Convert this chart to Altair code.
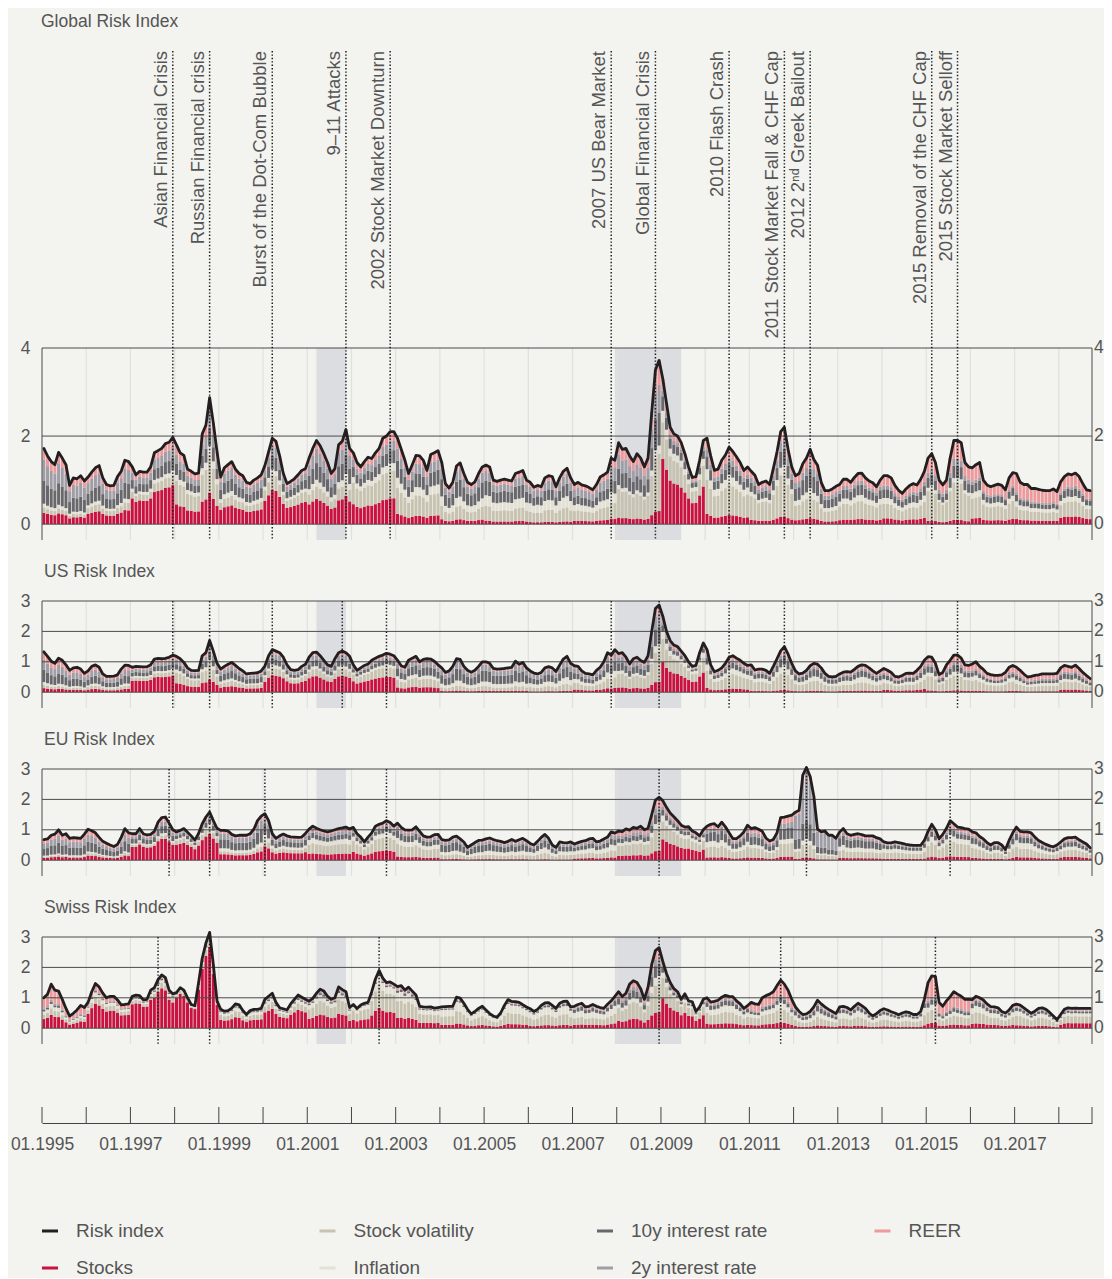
import altair as alt
import pandas as pd

FONT = "Liberation Sans"
TXT = "#555555"
BG = "#f3f3ef"
LINE_DARK = "#4a4a4a"
N_MONTHS = 285          # Jan 1995 .. Sep 2018
W = 1050

components = ["Stocks", "Stock volatility", "Inflation", "10y interest rate", "2y interest rate", "REER"]
component_colors = ["#c9123f", "#c8c3b1", "#e3e0d4", "#68676c", "#9f9da6", "#ec9a9c"]
risk_color = "#231f20"

# ---------------- monthly risk index values ----------------
global_index = [
    1.72, 1.55, 1.42, 1.35, 1.63, 1.50, 1.35, 0.88, 1.05, 1.03, 1.10, 0.98,
    1.07, 1.18, 1.28, 1.33, 1.05, 0.90, 0.87, 0.88, 1.08, 1.20, 1.45, 1.42,
    1.30, 1.12, 1.20, 1.18, 1.18, 1.30, 1.62, 1.67, 1.72, 1.83, 1.86, 1.97,
    1.80, 1.62, 1.56, 1.25, 1.20, 1.14, 1.16, 2.05, 2.25, 2.87, 2.30, 1.65,
    1.07, 1.28, 1.35, 1.42, 1.25, 1.15, 1.10, 0.95, 0.92, 1.00, 1.05, 1.12,
    1.33, 1.64, 1.95, 1.88, 1.55, 1.15, 0.92, 0.97, 1.03, 1.12, 1.22, 1.26,
    1.50, 1.72, 1.90, 1.78, 1.60, 1.40, 1.15, 1.26, 1.80, 1.88, 2.15, 1.72,
    1.62, 1.40, 1.30, 1.42, 1.52, 1.49, 1.62, 1.72, 1.95, 2.00, 2.10, 2.10,
    1.95, 1.70, 1.45, 1.15, 1.35, 1.56, 1.55, 1.45, 1.22, 1.58, 1.62, 1.67,
    1.40, 0.92, 0.82, 0.95, 1.32, 1.39, 1.15, 0.95, 0.90, 0.96, 1.15, 1.30,
    1.34, 1.30, 1.00, 0.97, 1.00, 1.02, 1.00, 0.98, 1.15, 1.18, 1.22, 1.00,
    0.95, 0.84, 0.88, 0.85, 1.05, 1.10, 1.08, 0.85, 1.05, 1.20, 1.27, 1.05,
    0.90, 0.95, 0.89, 0.87, 0.83, 0.78, 0.90, 1.07, 1.12, 1.18, 1.50, 1.45,
    1.85, 1.70, 1.72, 1.55, 1.42, 1.60, 1.50, 1.30, 1.50, 2.54, 3.50, 3.72,
    3.30, 2.75, 2.20, 2.05, 2.00, 1.85, 1.60, 1.30, 1.06, 1.08, 1.45, 1.90,
    1.95, 1.55, 1.22, 1.25, 1.45, 1.57, 1.75, 1.65, 1.53, 1.40, 1.22, 1.30,
    1.20, 1.11, 0.90, 0.95, 0.98, 0.90, 1.26, 1.64, 2.10, 2.20, 1.70, 1.30,
    1.10, 1.15, 1.37, 1.50, 1.70, 1.47, 1.34, 0.95, 0.76, 0.76, 0.80, 0.86,
    0.90, 1.02, 1.02, 0.95, 1.06, 1.15, 1.16, 1.05, 0.98, 0.94, 0.85, 1.00,
    1.10, 1.10, 1.05, 0.88, 0.77, 0.70, 0.80, 0.88, 0.92, 0.89, 1.02, 1.20,
    1.50, 1.60, 1.40, 1.00, 0.89, 1.00, 1.50, 1.90, 1.90, 1.85, 1.40, 1.30,
    1.28, 1.35, 1.40, 1.00, 0.89, 0.85, 0.88, 0.91, 0.88, 0.78, 1.05, 1.17,
    1.15, 0.95, 0.90, 0.90, 0.81, 0.81, 0.79, 0.77, 0.76, 0.76, 0.80, 0.74,
    0.96, 1.08, 1.14, 1.12, 1.16, 1.08, 0.92, 0.78, 0.76,
]

us_index = [
    1.33, 1.18, 1.02, 0.95, 1.12, 1.05, 0.90, 0.72, 0.80, 0.82, 0.76, 0.62,
    0.70, 0.85, 0.90, 0.82, 0.60, 0.52, 0.52, 0.53, 0.57, 0.76, 0.89, 0.88,
    0.82, 0.85, 0.84, 0.83, 0.84, 0.90, 1.09, 1.11, 1.10, 1.11, 1.15, 1.22,
    1.18, 1.10, 0.98, 0.80, 0.72, 0.71, 0.72, 1.20, 1.30, 1.70, 1.35, 0.95,
    0.76, 0.85, 0.92, 0.98, 0.88, 0.78, 0.70, 0.60, 0.62, 0.63, 0.64, 0.70,
    0.86, 1.20, 1.40, 1.35, 1.30, 1.15, 0.90, 0.74, 0.72, 0.74, 0.85, 0.92,
    1.15, 1.30, 1.32, 1.20, 1.05, 0.90, 0.85, 1.10, 1.30, 1.35, 1.30, 1.18,
    0.90, 0.72, 0.80, 0.88, 0.93, 1.05, 1.12, 1.18, 1.22, 1.28, 1.25, 1.20,
    1.05, 0.87, 0.82, 1.05, 1.12, 1.18, 1.00, 1.08, 1.10, 1.09, 1.02, 0.90,
    0.80, 0.65, 0.70, 0.85, 1.10, 1.08, 0.85, 0.72, 0.66, 0.72, 0.85, 1.00,
    1.00, 0.95, 0.78, 0.76, 0.77, 0.78, 0.80, 0.82, 1.02, 0.92, 0.98, 0.80,
    0.70, 0.63, 0.60, 0.65, 0.80, 0.84, 0.80, 0.68, 0.89, 1.09, 1.18, 0.95,
    0.87, 0.85, 0.70, 0.62, 0.60, 0.57, 0.72, 0.82, 1.00, 1.30, 1.22, 1.40,
    1.27, 1.30, 1.15, 0.93, 1.10, 1.15, 1.04, 0.98, 1.20, 2.00, 2.75, 2.87,
    2.50, 2.00, 1.70, 1.55, 1.50, 1.35, 1.20, 1.00, 0.85, 0.88, 1.30, 1.62,
    1.40, 0.90, 0.67, 0.72, 0.80, 0.95, 1.15, 1.20, 1.12, 1.05, 0.95, 0.88,
    0.90, 0.73, 0.76, 0.76, 0.72, 0.62, 0.85, 1.10, 1.36, 1.50, 1.25, 0.95,
    0.70, 0.60, 0.63, 0.72, 0.87, 0.95, 0.92, 0.80, 0.62, 0.52, 0.50, 0.52,
    0.60, 0.66, 0.68, 0.66, 0.75, 0.85, 0.90, 0.88, 0.80, 0.70, 0.62, 0.70,
    0.78, 0.72, 0.65, 0.52, 0.50, 0.55, 0.62, 0.63, 0.62, 0.72, 0.85, 1.05,
    1.17, 1.15, 0.95, 0.58, 0.65, 0.90, 1.05, 1.22, 1.22, 1.12, 0.90, 0.88,
    0.93, 1.00, 0.85, 0.75, 0.62, 0.58, 0.55, 0.55, 0.57, 0.65, 0.82, 0.88,
    0.82, 0.72, 0.60, 0.50, 0.52, 0.55, 0.57, 0.60, 0.60, 0.60, 0.60, 0.62,
    0.80, 0.88, 0.85, 0.82, 0.89, 0.78, 0.65, 0.55, 0.45,
]

eu_index = [
    0.68, 0.70, 0.82, 0.86, 1.00, 0.82, 0.87, 0.72, 0.74, 0.73, 0.72, 0.86,
    1.02, 0.97, 0.90, 0.75, 0.62, 0.56, 0.50, 0.45, 0.52, 0.75, 1.04, 0.90,
    0.87, 0.87, 1.04, 0.87, 0.83, 0.85, 0.95, 1.25, 1.40, 1.42, 1.22, 1.00,
    0.93, 0.98, 1.04, 0.92, 0.80, 0.66, 0.88, 1.20, 1.42, 1.58, 1.30, 1.05,
    0.98, 0.98, 0.96, 0.85, 0.80, 0.82, 0.82, 0.82, 0.87, 1.02, 1.30, 1.45,
    1.53, 1.30, 0.87, 0.72, 0.80, 0.86, 0.80, 0.77, 0.76, 0.75, 0.76, 0.88,
    1.02, 1.12, 1.05, 1.00, 0.96, 0.93, 0.96, 1.00, 1.04, 1.06, 1.09, 1.03,
    1.08, 0.87, 0.76, 0.60, 0.76, 0.90, 1.12, 1.18, 1.22, 1.30, 1.24, 1.12,
    1.22, 1.08, 1.00, 0.99, 1.00, 1.10, 0.95, 0.80, 0.76, 0.77, 0.84, 0.85,
    0.68, 0.65, 0.67, 0.76, 0.79, 0.70, 0.60, 0.42, 0.50, 0.58, 0.65, 0.66,
    0.70, 0.73, 0.68, 0.64, 0.62, 0.58, 0.62, 0.68, 0.62, 0.67, 0.72, 0.64,
    0.55, 0.50, 0.62, 0.75, 0.85, 0.72, 0.50, 0.42, 0.60, 0.58, 0.57, 0.60,
    0.53, 0.58, 0.62, 0.64, 0.70, 0.72, 0.60, 0.63, 0.70, 0.76, 0.93, 0.89,
    0.96, 0.94, 1.03, 0.99, 1.08, 1.05, 1.12, 1.00, 1.05, 1.50, 1.98, 2.07,
    1.96, 1.74, 1.55, 1.43, 1.30, 1.15, 1.09, 1.10, 0.96, 0.90, 0.80, 1.00,
    1.12, 1.18, 1.20, 1.10, 1.25, 1.10, 0.90, 0.71, 0.71, 0.80, 0.93, 1.15,
    1.04, 1.07, 1.02, 0.95, 0.73, 0.63, 0.68, 0.90, 1.40, 1.42, 1.45, 1.48,
    1.58, 1.64, 2.80, 3.05, 2.75, 2.10, 1.02, 0.93, 0.96, 0.82, 0.82, 0.72,
    0.93, 1.04, 0.87, 0.82, 0.85, 0.87, 0.84, 0.80, 0.80, 0.80, 0.74, 0.70,
    0.60, 0.57, 0.57, 0.60, 0.58, 0.55, 0.52, 0.50, 0.49, 0.49, 0.49, 0.65,
    0.95, 1.18, 1.00, 0.71, 0.85, 1.05, 1.30, 1.20, 1.09, 1.07, 1.04, 1.02,
    0.93, 0.90, 0.78, 0.70, 0.58, 0.50, 0.58, 0.58, 0.50, 0.35, 0.65, 0.90,
    1.09, 0.95, 0.93, 0.93, 0.90, 0.76, 0.65, 0.58, 0.52, 0.47, 0.44, 0.50,
    0.60, 0.70, 0.74, 0.74, 0.76, 0.67, 0.60, 0.53, 0.41,
]

swiss_index = [
    1.00, 1.12, 1.45, 1.25, 1.22, 0.95, 0.65, 0.40, 0.49, 0.60, 0.75, 0.68,
    0.85, 1.20, 1.47, 1.36, 1.15, 1.00, 1.05, 1.05, 0.93, 0.77, 0.78, 0.80,
    1.05, 1.09, 1.07, 0.93, 0.95, 1.25, 1.33, 1.60, 1.75, 1.66, 1.25, 1.13,
    1.17, 1.33, 1.25, 1.00, 0.78, 0.74, 1.50, 2.30, 2.80, 3.15, 2.10, 0.90,
    0.62, 0.56, 0.58, 0.66, 0.80, 0.77, 0.58, 0.45, 0.58, 0.62, 0.62, 0.65,
    0.95, 1.05, 1.15, 0.85, 0.67, 0.64, 0.60, 0.80, 0.95, 1.09, 1.02, 0.95,
    0.89, 0.98, 1.15, 1.28, 1.22, 1.05, 0.95, 1.00, 1.36, 1.27, 1.20, 0.68,
    0.78, 0.65, 0.76, 0.82, 0.85, 1.20, 1.62, 1.90, 1.65, 1.50, 1.52, 1.45,
    1.37, 1.40, 1.25, 1.35, 1.22, 1.09, 0.72, 0.70, 0.69, 0.70, 0.66, 0.68,
    0.70, 0.71, 0.72, 0.72, 1.02, 0.99, 0.82, 0.62, 0.47, 0.55, 0.65, 0.72,
    0.60, 0.48, 0.40, 0.36, 0.50, 0.75, 0.94, 0.88, 0.87, 0.85, 0.77, 0.70,
    0.64, 0.55, 0.62, 0.75, 0.83, 0.84, 0.75, 0.65, 0.82, 0.88, 0.89, 0.70,
    0.72, 0.78, 0.82, 0.70, 0.72, 0.78, 0.72, 0.68, 0.65, 0.79, 0.90, 1.05,
    1.20, 1.04, 1.15, 1.45, 1.56, 1.50, 1.30, 0.95, 1.35, 2.10, 2.55, 2.65,
    2.20, 1.80, 1.50, 1.30, 1.20, 0.95, 1.13, 0.90, 0.87, 0.55, 0.70, 0.95,
    1.00, 0.86, 0.88, 0.92, 1.02, 1.08, 1.05, 1.04, 0.90, 0.80, 0.65, 0.74,
    0.85, 0.80, 0.78, 1.00, 1.07, 1.12, 1.20, 1.40, 1.58, 1.45, 1.25, 0.95,
    0.70, 0.55, 0.45, 0.47, 0.55, 0.70, 0.92, 0.80, 0.70, 0.62, 0.55, 0.48,
    0.70, 0.72, 0.68, 0.60, 0.72, 0.82, 0.74, 0.65, 0.50, 0.40, 0.48, 0.58,
    0.64, 0.60, 0.54, 0.50, 0.44, 0.50, 0.54, 0.51, 0.45, 0.45, 0.55, 0.95,
    1.50, 1.72, 1.70, 0.85, 0.72, 0.90, 1.04, 1.20, 1.12, 1.05, 0.95, 0.95,
    0.94, 1.05, 1.00, 0.93, 0.80, 0.71, 0.70, 0.67, 0.55, 0.50, 0.60, 0.75,
    0.79, 0.76, 0.67, 0.58, 0.49, 0.56, 0.65, 0.67, 0.62, 0.52, 0.40, 0.28,
    0.45, 0.62, 0.67, 0.65, 0.66, 0.65, 0.65, 0.65, 0.65,
]

# ---------------- yearly composition of each index (percent, 1995..2018) ----------------
global_shares = {
    "Stocks":            [15, 22, 45, 25, 30, 40, 30, 28, 12, 8, 6, 5, 8, 8, 45, 12, 8, 8, 10, 12, 5, 10, 10, 15],
    "Stock volatility":  [7, 12, 12, 30, 15, 18, 15, 30, 30, 22, 25, 25, 25, 35, 25, 40, 45, 30, 35, 30, 45, 35, 25, 30],
    "Inflation":         [5, 6, 5, 7, 8, 6, 8, 8, 12, 15, 18, 20, 15, 5, 8, 12, 8, 10, 12, 12, 5, 10, 10, 10],
    "10y interest rate": [30, 25, 15, 14, 20, 16, 20, 14, 20, 28, 25, 22, 20, 20, 10, 15, 17, 25, 20, 18, 15, 15, 13, 15],
    "2y interest rate":  [28, 22, 13, 12, 17, 12, 17, 10, 14, 17, 16, 18, 20, 17, 4, 8, 10, 12, 8, 8, 8, 5, 5, 5],
    "REER":              [15, 13, 10, 12, 10, 8, 10, 10, 12, 10, 10, 10, 12, 15, 8, 13, 12, 15, 15, 20, 22, 25, 37, 25],
}
us_shares = {
    "Stocks":            [10, 12, 45, 25, 20, 40, 40, 40, 15, 5, 5, 4, 10, 12, 40, 10, 5, 5, 6, 10, 5, 5, 5, 10],
    "Stock volatility":  [8, 12, 12, 30, 18, 18, 18, 25, 25, 15, 15, 20, 25, 35, 30, 40, 40, 35, 30, 30, 40, 35, 30, 30],
    "Inflation":         [7, 8, 6, 8, 8, 7, 7, 7, 10, 15, 15, 18, 15, 8, 10, 15, 15, 15, 20, 15, 10, 15, 15, 10],
    "10y interest rate": [30, 28, 15, 15, 25, 15, 15, 12, 25, 35, 35, 28, 22, 20, 8, 15, 20, 25, 22, 20, 18, 15, 15, 20],
    "2y interest rate":  [25, 22, 12, 12, 17, 12, 12, 8, 15, 20, 20, 20, 18, 15, 4, 8, 8, 8, 8, 7, 7, 7, 10, 8],
    "REER":              [20, 18, 10, 10, 12, 8, 8, 8, 10, 10, 10, 10, 10, 10, 8, 12, 12, 12, 14, 18, 20, 23, 25, 22],
}
eu_shares = {
    "Stocks":            [12, 15, 50, 55, 20, 30, 20, 25, 10, 5, 5, 4, 10, 15, 35, 8, 8, 3, 8, 8, 10, 8, 10, 15],
    "Stock volatility":  [5, 8, 8, 15, 10, 15, 30, 35, 35, 20, 20, 25, 25, 35, 30, 30, 30, 15, 25, 35, 40, 35, 30, 30],
    "Inflation":         [5, 5, 5, 5, 10, 10, 15, 12, 15, 15, 18, 20, 20, 10, 10, 15, 10, 5, 15, 20, 15, 15, 20, 15],
    "10y interest rate": [35, 32, 17, 12, 30, 22, 15, 12, 20, 35, 30, 28, 22, 15, 10, 25, 25, 20, 30, 20, 15, 22, 20, 20],
    "2y interest rate":  [25, 22, 10, 6, 20, 13, 10, 8, 10, 15, 15, 13, 13, 10, 5, 10, 12, 50, 10, 7, 7, 7, 7, 8],
    "REER":              [18, 18, 10, 7, 10, 10, 10, 8, 10, 10, 12, 10, 10, 15, 10, 12, 15, 7, 12, 10, 13, 13, 13, 12],
}
swiss_shares = {
    "Stocks":            [30, 55, 75, 85, 45, 55, 35, 35, 25, 15, 15, 12, 15, 20, 45, 15, 12, 10, 10, 10, 10, 15, 12, 25],
    "Stock volatility":  [15, 15, 10, 7, 25, 20, 35, 40, 40, 40, 40, 40, 30, 35, 30, 35, 30, 30, 35, 35, 25, 35, 40, 35],
    "Inflation":         [10, 10, 5, 3, 15, 10, 15, 15, 20, 30, 30, 30, 25, 10, 8, 20, 13, 20, 25, 25, 10, 20, 20, 15],
    "10y interest rate": [5, 3, 3, 2, 5, 5, 5, 3, 5, 5, 5, 8, 15, 15, 7, 15, 10, 20, 15, 15, 10, 15, 13, 10],
    "2y interest rate":  [5, 2, 2, 1, 5, 3, 3, 2, 3, 3, 2, 3, 5, 8, 3, 5, 5, 8, 5, 5, 5, 5, 5, 5],
    "REER":              [35, 15, 5, 2, 5, 7, 7, 5, 7, 7, 8, 7, 10, 12, 7, 10, 30, 12, 10, 10, 40, 10, 10, 10],
}

# ---------------- events and shaded periods ----------------
event_labels = ["Asian Financial Crisis", "Russian Financial crisis", "Burst of the Dot-Com Bubble",
                "9\u201311 Attacks", "2002 Stock Market Downturn", "2007 US Bear Market",
                "Global Financial Crisis", "2010 Flash Crash", "2011 Stock Market Fall & CHF Cap",
                "2012 2\u207f\u1d48 Greek Bailout", "2015 Removal of the CHF Cap", "2015 Stock Market Selloff"]
global_events = ["1997-12", "1998-10", "2000-03", "2001-11", "2002-11", "2007-11",
                 "2008-11", "2010-07", "2011-10", "2012-05", "2015-02", "2015-09"]
us_events = ["1997-12", "1998-10", "2000-03", "2001-10", "2002-10", "2007-11",
             "2008-12", "2010-07", "2011-10", "2015-09"]
eu_events = ["1997-11", "1998-10", "2000-01", "2002-10", "2008-12", "2012-04", "2015-07"]
swiss_events = ["1997-08", "1998-10", "2002-08", "2008-12", "2011-09", "2015-03"]
recession_start = ["2001-03", "2007-12"]
recession_end = ["2001-11", "2009-06"]

legend_items = ["Risk index", "Stocks", "Stock volatility", "Inflation",
                "10y interest rate", "2y interest rate", "REER"]
legend_col = [0, 0, 1, 1, 2, 2, 3]
legend_row = [0, 1, 0, 1, 0, 1, 0]
legend_colors = [risk_color] + component_colors


def mpos(s):
    y, mo = s.split("-")
    return (int(y) - 1995) * 12 + int(mo) - 1 + 0.5


XS = alt.Scale(domain=[0, N_MONTHS], nice=False, zero=False, padding=0)
color_of = dict(zip(components, component_colors))
DOT = dict(color="#1e1e1e", strokeWidth=1.5, strokeDash=[1.4, 2.0])


def bar_frame(idx, shares):
    rows = []
    for m, v in enumerate(idx):
        yi = m // 12
        tot = sum(shares[c][yi] for c in components)
        for k, c in enumerate(components):
            rows.append({"pos": m + 0.5, "k": k, "hex": color_of[c], "value": v * shares[c][yi] / tot})
    return pd.DataFrame(rows)


def panel(name, idx, shares, events, ymin, ymax, vals, height, strip=0, labels=None):
    """A panel; `strip` extra pixels above the frame hold the event labels."""
    ytop = ymax + strip * (ymax - ymin) / height
    H = strip + height
    ys = alt.Scale(domain=[ymin, ytop], nice=False, zero=False, padding=0)
    yax = alt.Axis(values=vals, title=None, domain=False, ticks=False, tickSize=0, grid=False,
                   labelFont=FONT, labelFontSize=17.5, labelColor=TXT, labelPadding=12)
    X = lambda f: alt.X(f, scale=XS, axis=None)
    shade = alt.Chart(pd.DataFrame({"start": [mpos(s) for s in recession_start],
                                    "end": [mpos(s) for s in recession_end]})).mark_rect(
        color="#dcdde0").encode(x=X("start:Q"), x2="end:Q", y=alt.value(strip), y2=alt.value(H))
    vgrid = alt.Chart(pd.DataFrame({"pos": [12 * i for i in range(1, 24)]})).mark_rule(
        color="#e0e0dd", strokeWidth=1.2).encode(x=X("pos:Q"), y=alt.value(strip), y2=alt.value(H))
    bars = alt.Chart(bar_frame(idx, shares)).mark_bar(size=3).encode(
        x=X("pos:Q"),
        y=alt.Y("value:Q", stack="zero", scale=ys, axis=yax),
        color=alt.Color("hex:N", scale=None),
        order=alt.Order("k:Q", sort="ascending"))
    hrules = alt.Chart(pd.DataFrame({"v": vals})).mark_rule(color=LINE_DARK, strokeWidth=1).encode(
        y=alt.Y("v:Q", scale=ys, axis=yax), x=alt.value(0), x2=alt.value(W))
    line = alt.Chart(pd.DataFrame({"pos": [m + 0.5 for m in range(len(idx))], "value": idx})).mark_line(
        color=risk_color, strokeWidth=2.8, strokeJoin="round", strokeCap="round").encode(
        x=X("pos:Q"), y=alt.Y("value:Q", scale=ys, axis=yax))
    ev = alt.Chart(pd.DataFrame({"pos": [mpos(e) for e in events]})).mark_rule(**DOT).encode(
        x=X("pos:Q"), y=alt.value(0), y2=alt.value(H))
    borders = alt.Chart(pd.DataFrame({"pos": [0, N_MONTHS]})).mark_rule(
        color=LINE_DARK, strokeWidth=1).encode(x=X("pos:Q"), y=alt.value(strip), y2=alt.value(H))
    rlab = alt.Chart(pd.DataFrame({"v": vals, "lab": [str(v) for v in vals]})).mark_text(
        align="left", baseline="middle", font=FONT, fontSize=17.5, color=TXT).encode(
        x=alt.value(W + 2), y=alt.Y("v:Q", scale=ys, axis=yax), text="lab:N")
    layers = [shade, vgrid, bars, hrules, line, ev, borders, rlab]
    if labels is not None:
        lab_df = pd.DataFrame({"pos": [mpos(e) for e in events], "label": labels})
        layers.append(alt.Chart(lab_df).mark_text(
            angle=270, align="right", baseline="alphabetic", dy=-6,
            font=FONT, fontSize=18.5, color=TXT).encode(x=X("pos:Q"), y=alt.value(0), text="label:N"))
    ttl = alt.Chart(pd.DataFrame({"t": [name]})).mark_text(
        align="left", baseline="middle", font=FONT, fontSize=17.5, color=TXT).encode(
        x=alt.value(-1 if strip else 2), y=alt.value(-29), text="t:N")
    layers.append(ttl)
    return alt.layer(*layers).properties(width=W, height=H)


global_panel = panel("Global Risk Index", global_index, global_shares, global_events,
                     -0.36, 4, [0, 2, 4], 192, strip=297, labels=event_labels)
us_panel = panel("US Risk Index", us_index, us_shares, us_events, -0.52, 3, [0, 1, 2, 3], 107)
eu_panel = panel("EU Risk Index", eu_index, eu_shares, eu_events, -0.52, 3, [0, 1, 2, 3], 107)
swiss_panel = panel("Swiss Risk Index", swiss_index, swiss_shares, swiss_events, -0.52, 3, [0, 1, 2, 3], 107)

# ---------------- time axis ----------------
tick_df = pd.DataFrame({"pos": [12 * i for i in range(24)] + [N_MONTHS]})
axis_chart = alt.Chart(tick_df).mark_rule(color="#444444", strokeWidth=1).encode(
    x=alt.X("pos:Q", scale=XS, axis=alt.Axis(
        values=[24 * i for i in range(12)],
        labelExpr="'01.' + (1995 + datum.value / 12)",
        title=None, ticks=False, tickSize=0, grid=False, domain=True, domainColor="#444444",
        domainWidth=1, labelFont=FONT, labelFontSize=17.5, labelColor=TXT, labelPadding=12,
        labelFlush=False, labelOverlap=False)),
    y=alt.value(2), y2=alt.value(18)).properties(width=W, height=18)

# ---------------- legend ----------------
leg_df = pd.DataFrame({"item": legend_items, "col": legend_col, "row": legend_row, "hex": legend_colors})
LX = alt.Scale(domain=[0, W / 277.5], nice=False, zero=False, padding=0)
LY = alt.Scale(domain=[-1.27, 1], reverse=True, nice=False, zero=False, padding=0)
leg_sym = alt.Chart(leg_df).mark_tick(orient="horizontal", size=16, thickness=3, xOffset=8, opacity=1).encode(
    x=alt.X("col:Q", scale=LX, axis=None), y=alt.Y("row:Q", scale=LY, axis=None),
    color=alt.Color("hex:N", scale=None))
leg_txt = alt.Chart(leg_df).mark_text(align="left", baseline="middle", dx=34, font=FONT,
                                       fontSize=19, color=TXT).encode(
    x=alt.X("col:Q", scale=LX, axis=None), y=alt.Y("row:Q", scale=LY, axis=None), text="item:N")
legend_chart = alt.layer(leg_sym, leg_txt).properties(width=W, height=84)

chart = alt.vconcat(global_panel, us_panel, eu_panel, swiss_panel, axis_chart, legend_chart,
                    spacing=61, bounds="flush").properties(
    padding={"left": 2, "top": 5, "right": 0, "bottom": 0},
    background=BG,
).configure_view(strokeWidth=0)

chart.save("out.html", embed_options={"renderer": "svg", "actions": False})
